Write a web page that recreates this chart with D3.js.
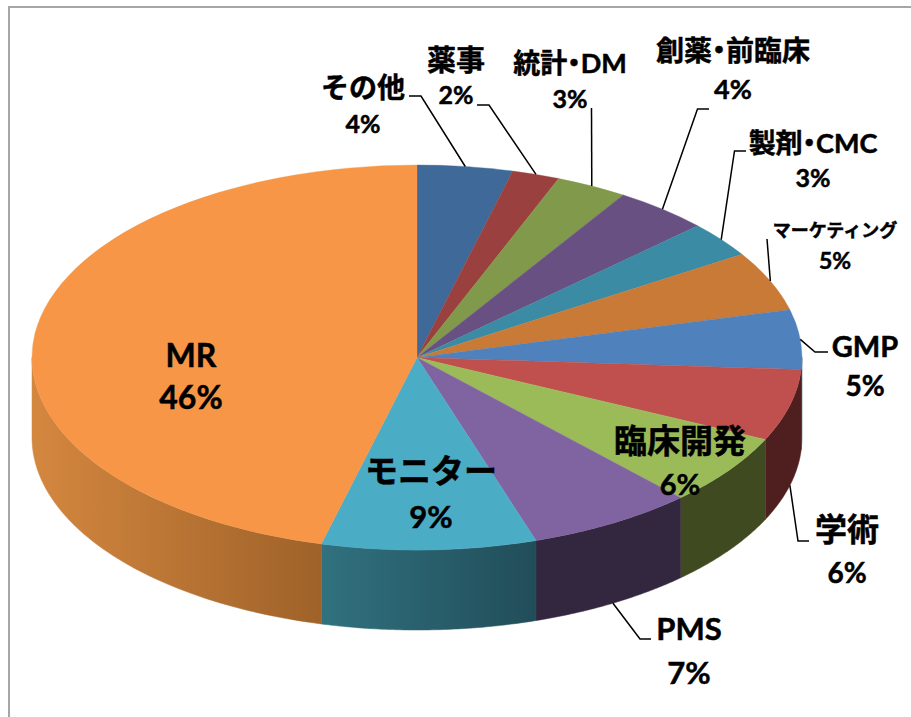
<!DOCTYPE html>
<html>
<head>
<meta charset="utf-8">
<script src="https://cdn.jsdelivr.net/npm/d3@7"></script>
<style>
  html, body { margin: 0; padding: 0; background: #fff; }
  text { font-family: Lato, "Noto Sans CJK JP", sans-serif; font-weight: 700; fill: #000; stroke: #000; stroke-width: 0.5; text-anchor: middle; dominant-baseline: central; }
  text.tight { font-feature-settings: "palt"; }
</style>
</head>
<body>
<div id="chart"></div>
<script>
const width = 911;
const height = 717;

// data, clockwise from 12 o'clock
const categories = ["その他", "薬事", "統計・DM", "創薬・前臨床", "製剤・CMC", "マーケティング", "GMP", "学術", "臨床開発", "PMS", "モニター", "MR"];
const shares = [4, 2, 3, 4, 3, 5, 5, 6, 6, 7, 9, 46];

const topColors = ["#3f6998", "#9a403e", "#80994a", "#695083", "#3a8ba3", "#c97a36", "#4f81bd", "#c0504d", "#9bbb59", "#8064a2", "#4bacc6", "#f79646"];
const wallFrom = ["#2f4e72", "#6e2d2c", "#5c6e35", "#4a3a5d", "#296374", "#8f5726", "#33527a", "#4f1f1f", "#3f4a21", "#33273f", "#31717f", "#d4873f"];
const wallTo = ["#2f4e72", "#6e2d2c", "#5c6e35", "#4a3a5d", "#296374", "#8f5726", "#33527a", "#4f1f1f", "#3f4a21", "#33273f", "#214d59", "#9f6229"];

// label layout: [name x, name y, name size, pct y, pct size]
const labelLayout = [
  [363, 87, 28, 123, 25],
  [456, 59, 29, 94, 25],
  [570, 62, 27, 98, 25],
  [733, 50, 28, 88, 27],
  [813, 142, 27, 177, 25],
  [835, 230, 18, 260, 23],
  [865, 345, 29, 385, 28],
  [847, 528, 32, 572, 28],
  [680, 440, 33, 483, 29],
  [689, 628, 31, 672, 31],
  [431, 470, 33, 516, 31],
  [191, 354, 32, 396, 32],
];

// leader elbows after the rim anchor, null where the slice has no leader
const leaderElbows = [
  [[421, 96], [409, 96]],
  [[489, 105], [477, 105]],
  [[591.5, 108]],
  [[697.5, 109], [709, 109]],
  [[734.5, 151], [746, 151]],
  [[767, 239]],
  [[815, 352], [828, 352]],
  [[798, 541], [809, 541]],
  null,
  [[640, 639], [651, 639]],
  null,
  null,
];

const depth = 80;
const x = d3.scaleLinear().domain([-1, 1]).range([32, 802]);
const y = d3.scaleLinear().domain([-1, 1]).range([165, 550]);
const rx = (x.range()[1] - x.range()[0]) / 2;
const ry = (y.range()[1] - y.range()[0]) / 2;

const svg = d3
  .select("#chart")
  .append("svg")
  .attr("width", width)
  .attr("height", height)
  .style("display", "block");

// chart frame
svg
  .append("path")
  .attr("d", "M9,717V7H911")
  .attr("fill", "none")
  .attr("stroke", "#a6a6a6")
  .attr("stroke-width", 2);

const slices = d3.pie().sort(null).value((d) => d)(shares);
const rimX = (t) => x(Math.sin(t));
const rimY = (t) => y(-Math.cos(t));

const defs = svg.append("defs");

// side walls, only the front half is visible
const wall = d3
  .area()
  .x((t) => rimX(t))
  .y0((t) => rimY(t))
  .y1((t) => rimY(t) + depth);

const walls = svg.append("g");
slices.forEach((s, i) => {
  const a0 = Math.max(s.startAngle, Math.PI / 2);
  const a1 = Math.min(s.endAngle, (3 * Math.PI) / 2);
  if (a1 <= a0) return;
  const n = 60;
  const ts = d3.range(n + 1).map((k) => a0 + ((a1 - a0) * k) / n);
  const xs = d3.extent(ts, rimX);
  const grad = defs
    .append("linearGradient")
    .attr("id", "wall" + i)
    .attr("gradientUnits", "userSpaceOnUse")
    .attr("x1", xs[0])
    .attr("x2", xs[1])
    .attr("y1", 0)
    .attr("y2", 0);
  grad.append("stop").attr("offset", 0).attr("stop-color", wallFrom[i]);
  grad.append("stop").attr("offset", 1).attr("stop-color", wallTo[i]);
  walls
    .append("path")
    .attr("d", wall(ts))
    .attr("fill", "url(#wall" + i + ")")
    .attr("stroke", "url(#wall" + i + ")")
    .attr("stroke-width", 0.5);
});

// top face, circular arcs squashed to the ellipse
const arc = d3.arc().innerRadius(0).outerRadius(rx);
svg
  .append("g")
  .attr("transform", `translate(${x(0)},${y(0)}) scale(1,${ry / rx})`)
  .selectAll("path")
  .data(slices)
  .enter()
  .append("path")
  .attr("d", arc)
  .attr("fill", (d, i) => topColors[i])
  .attr("stroke", (d, i) => topColors[i])
  .attr("stroke-width", 0.5);

// leader lines start on the rim at each slice's middle angle
const leader = d3.line();
svg
  .append("g")
  .selectAll("path")
  .data(slices.filter((d, i) => leaderElbows[i]))
  .enter()
  .append("path")
  .attr("d", (d) => {
    const mid = (d.startAngle + d.endAngle) / 2;
    const front = Math.cos(mid) < -0.2;
    const start = [rimX(mid), rimY(mid) + (front ? depth : 0)];
    return leader([start, ...leaderElbows[d.index]]);
  })
  .attr("fill", "none")
  .attr("stroke", "#000")
  .attr("stroke-width", 1.5);

// labels, names with a middle dot use proportional metrics so the dot sits tight
const labels = svg.append("g");
categories.forEach((name, i) => {
  const [lx, ny, ns, py, ps] = labelLayout[i];
  labels
    .append("text")
    .attr("class", name.includes("・") ? "tight" : null)
    .attr("x", lx)
    .attr("y", ny)
    .attr("font-size", ns)
    .text(name);
  labels.append("text").attr("x", lx).attr("y", py).attr("font-size", ps).text(shares[i] + "%");
});
</script>
</body>
</html>
